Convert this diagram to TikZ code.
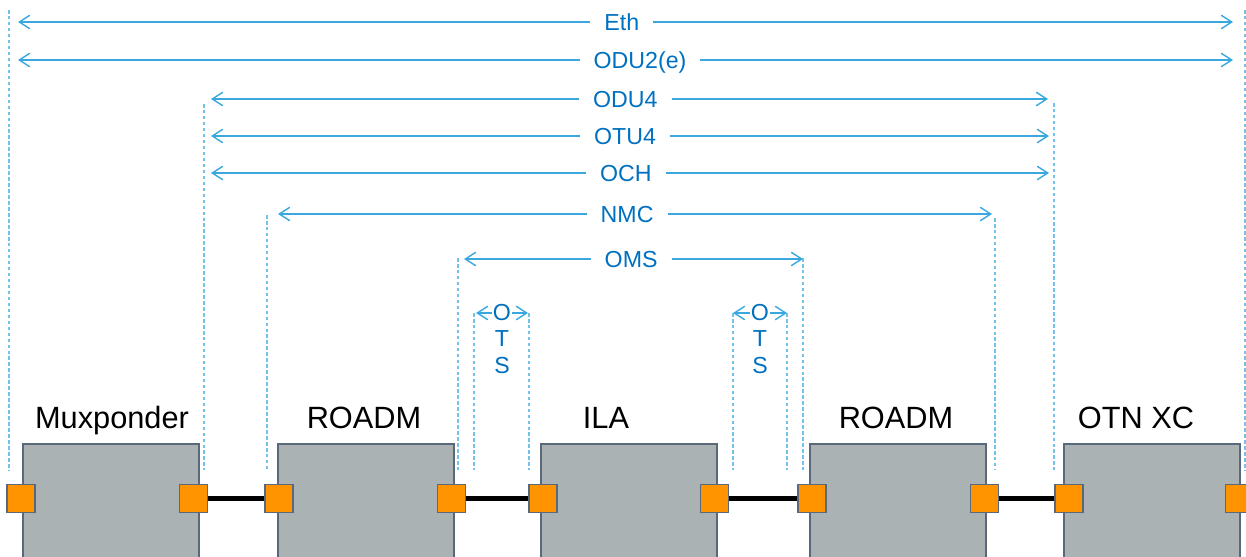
\documentclass[tikz,border=0pt]{standalone}
\usepackage{fontspec}
\setmainfont{Liberation Sans}
\usetikzlibrary{arrows.meta, positioning, calc}
\definecolor{labelblue}{HTML}{0070C0}
\definecolor{dimblue}{HTML}{3AA8DF}
\definecolor{guideblue}{HTML}{72C2EA}
\definecolor{boxgrey}{HTML}{AAB2B4}
\definecolor{boxedge}{HTML}{59687A}
\definecolor{portorange}{HTML}{FF9300}

\begin{document}
\begin{tikzpicture}[
  x=0.02cm, y=-0.02cm,
  every node/.style={font=\fontsize{13.2}{14.8}\selectfont},
  device/.style={draw=boxedge, line width=0.9pt, fill=boxgrey, anchor=north west,
                 minimum width=3.52cm, minimum height=2.9cm, inner sep=0},
  port/.style={draw=boxedge, line width=0.9pt, fill=portorange, minimum size=0.56cm, inner sep=0},
  devname/.style={font=\fontsize{17.5}{20}\selectfont, anchor=base},
  link/.style={line width=2.7pt, black},
  guide/.style={guideblue, line width=0.6pt, dash pattern=on 2pt off 1.4pt},
  dim/.style={dimblue, line width=0.8pt, <->, >={Straight Barb[length=2.1mm,width=2.7mm]}},
  layer/.style={text=labelblue, fill=white, inner xsep=0.28cm, inner ysep=1pt,
                text height=9.45pt, text depth=0pt},
  otslabel/.style={text=labelblue, fill=white, align=center, inner xsep=0.5pt, inner ysep=0pt}
]
\clip (0,0) rectangle (1246,556);

% network elements
\node[device] (mux) at (22,443) {};
\node[device] (roadmA) at (277,443) {};
\node[device] (ila) at (540,443) {};
\node[device] (roadmB) at (809,443) {};
\node[device] (otn) at (1063,443) {};

\node[devname] (muxName) at (112,428) {Muxponder};
\node[devname] (roadmAName) at (364,428) {ROADM};
\node[devname] (ilaName) at (606,428) {ILA};
\node[devname] (roadmBName) at (896,428) {ROADM};
\node[devname] (otnName) at (1136,428) {OTN XC};

% ports
\node[port] (muxL) at ($(mux.north west)+(-1,55.5)$) {};
\node[port] (muxR) at ($(mux.north east)+(-6,55.5)$) {};
\node[port] (roadmAL) at ($(roadmA.north west)+(2,55.5)$) {};
\node[port] (roadmAR) at ($(roadmA.north east)+(-3,55.5)$) {};
\node[port] (ilaL) at ($(ila.north west)+(3,55.5)$) {};
\node[port] (ilaR) at ($(ila.north east)+(-3,55.5)$) {};
\node[port] (roadmBL) at ($(roadmB.north west)+(3,55.5)$) {};
\node[port] (roadmBR) at ($(roadmB.north east)+(-2,55.5)$) {};
\node[port] (otnL) at ($(otn.north west)+(6,55.5)$) {};
\node[port] (otnR) at ($(otn.north east)+(-1,55.5)$) {};

% fibres
\draw[link] (muxR) -- (roadmAL);
\draw[link] (roadmAR) -- (ilaL);
\draw[link] (ilaR) -- (roadmBL);
\draw[link] (roadmBR) -- (otnL);

% termination guides
\foreach \gx/\gy in {9/10, 1245/10, 204/104, 1054/103, 267/215, 995/218,
                     458/258, 803/258, 474/313, 529/313, 733/313, 787/313}
  \draw[guide] (\gx,\gy) -- (\gx,470);

% layer extents
\coordinate (ethL) at (18,22);    \coordinate (ethR) at (1233,22);
\coordinate (oduTwoL) at (18,60); \coordinate (oduTwoR) at (1233,60);
\coordinate (oduL) at (211,99);   \coordinate (oduR) at (1048,99);
\coordinate (otuL) at (211,136);  \coordinate (otuR) at (1049,136);
\coordinate (ochL) at (211,173);  \coordinate (ochR) at (1049,173);
\coordinate (nmcL) at (278,214);  \coordinate (nmcR) at (992,214);
\coordinate (omsL) at (464,259);  \coordinate (omsR) at (803,259);
\coordinate (otsAL) at (476,313); \coordinate (otsAR) at (528,313);
\coordinate (otsBL) at (733,313); \coordinate (otsBR) at (787,313);

\draw[dim] (ethL) -- node[layer, pos=0.497] (eth) {Eth} (ethR);
\draw[dim] (oduTwoL) -- node[layer, pos=0.512] (oduTwo) {ODU2(e)} (oduTwoR);
\draw[dim] (oduL) -- node[layer, pos=0.495] (odu) {ODU4} (oduR);
\draw[dim] (otuL) -- node[layer, pos=0.494] (otu) {OTU4} (otuR);
\draw[dim] (ochL) -- node[layer, pos=0.495] (och) {OCH} (ochR);
\draw[dim] (nmcL) -- node[layer, pos=0.489] (nmc) {NMC} (nmcR);
\draw[dim] (omsL) -- node[layer, pos=0.493] (oms) {OMS} (omsR);

% OTS sections
\draw[dim] (otsAL) -- (otsAR);
\draw[dim] (otsBL) -- (otsBR);
\node[otslabel] (otsA) at ($(otsAL)!0.5!(otsAR)+(0,26)$) {O\\T\\S};
\node[otslabel] (otsB) at ($(otsBL)!0.5!(otsBR)+(0,26)$) {O\\T\\S};
\end{tikzpicture}
\end{document}
